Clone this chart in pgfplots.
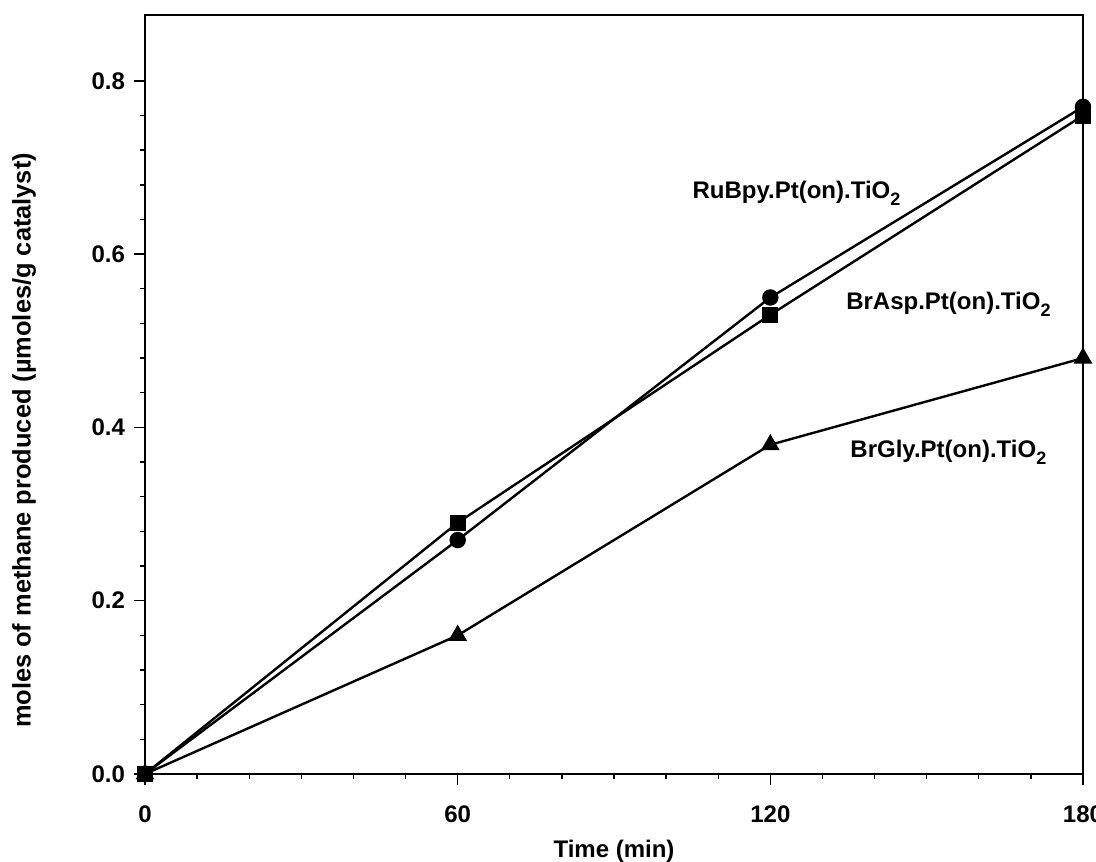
\documentclass[border=0pt]{standalone}
\usepackage{pgfplots}
\pgfplotsset{compat=1.18}
\usepackage{fontspec}
\setmainfont{Liberation Sans}

% 1 px of the reference = 0.5pt
\newcommand{\sub}[1]{\raisebox{-3.5pt}{\fontsize{9}{10}\selectfont\bfseries #1}}

\begin{document}
\begin{tikzpicture}
\begin{axis}[
  width=469pt, height=379.5pt, scale only axis,
  xmin=0, xmax=180, ymin=0, ymax=0.876,
  xtick={0,60,120,180}, minor x tick num=5,
  ytick={0,0.2,0.4,0.6,0.8}, minor y tick num=4,
  tick align=outside, tick pos=left,
  major tick length=5.5pt, minor tick length=2.6pt,
  every tick/.style={black, line width=0.7pt},
  axis line style={line width=1.3pt},
  font=\fontsize{12}{14}\selectfont\bfseries,
  /pgf/number format/assume math mode=true,
  yticklabel style={/pgf/number format/fixed, /pgf/number format/fixed zerofill,
    /pgf/number format/precision=1, xshift=-1pt},
  xticklabel style={yshift=-6.6pt},
  xlabel={Time (min)},
  ylabel={moles of methane produced (µmoles/g catalyst)},
  every axis x label/.style={at={(rel axis cs:0.5,0)}, anchor=base, yshift=-41.5pt},
  every axis y label/.style={at={([xshift=-60.5pt,yshift=-23pt]rel axis cs:0,0.5)}, rotate=90, anchor=center,
    font=\fontsize{12.7}{14}\selectfont\bfseries},
  every axis plot/.style={black, line width=1.2pt, mark options={solid, fill=black}},
  clip=false,
]
\addplot[mark=*, mark size=3.5pt] coordinates {(0,0) (60,0.27) (120,0.55) (180,0.77)};
\addplot[mark=square*, mark size=3.4pt] coordinates {(0,0) (60,0.29) (120,0.53) (180,0.76)};
\addplot[mark=triangle*, mark size=4.2pt] coordinates {(0,0) (60,0.16) (120,0.38) (180,0.48)};
\node[anchor=base west, inner sep=0pt] at (axis cs:105,0.664) {RuBpy.Pt(on).TiO\sub{2}};
\node[anchor=base west, inner sep=0pt] at (axis cs:134.5,0.536) {BrAsp.Pt(on).TiO\sub{2}};
\node[anchor=base west, inner sep=0pt] at (axis cs:135.3,0.365) {BrGly.Pt(on).TiO\sub{2}};
\coordinate (asw) at (rel axis cs:0,0);
\coordinate (ane) at (rel axis cs:1,1);
\end{axis}
\pgfresetboundingbox
\useasboundingbox ([xshift=-72.5pt,yshift=-43.5pt]asw) rectangle ([xshift=6.5pt,yshift=7.5pt]ane);
\end{tikzpicture}
\end{document}
